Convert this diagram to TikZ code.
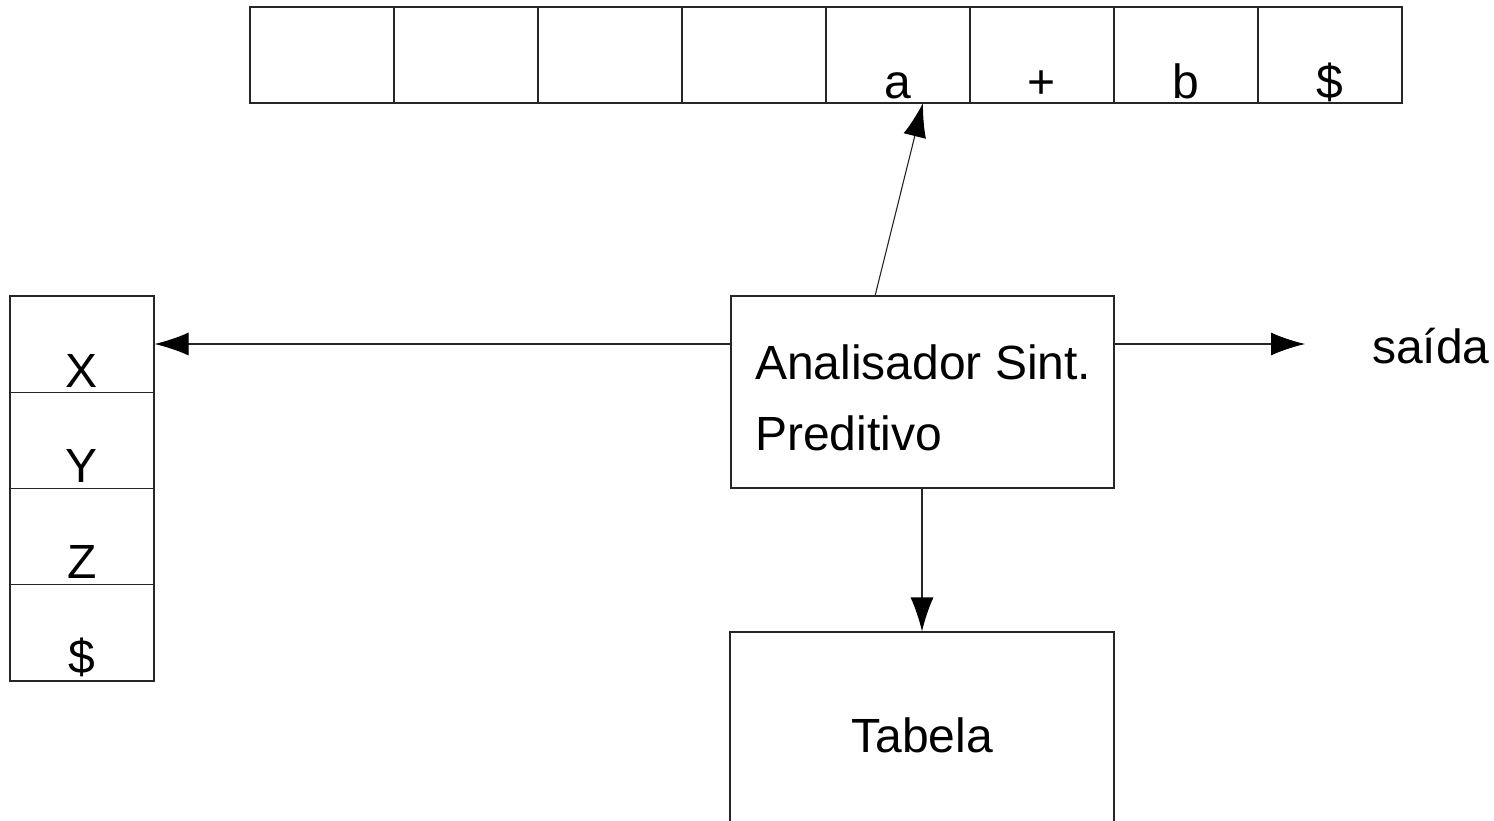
\documentclass[tikz,border=0pt]{standalone}
\usepackage{fontspec}
\setmainfont{Liberation Sans}
\usetikzlibrary{arrows.meta}
\begin{document}
\begin{tikzpicture}[x=1pt,y=-1pt,
  box/.style={draw=black!85,line width=1.1pt,inner sep=0pt},
  lbl/.style={font=\fontsize{48}{58}\selectfont,inner sep=0pt,anchor=base},
  arr/.style={draw=black!85,line width=1.1pt,-{Latex[length=34pt,width=23pt,black]}}]
\clip (0,0) rectangle (1494,821);
% input tape
\foreach \i in {0,...,7}{
  \node[box,minimum width=144pt,minimum height=96pt] (t\i) at ({250+144*\i+72},55) {};
}
\node[lbl] (ta) at (898,99) {a};
\node[lbl] (tp) at (1042,99) {+};
\node[lbl] (tb) at (1186,99) {b};
\node[lbl] (td) at (1330,99) {\$};
% stack
\foreach \j in {0,...,3}{
  \node[box,minimum width=144pt,minimum height=96.25pt] (s\j) at (82,{296+96.25*\j+48.125}) {};
}
\node[lbl] (sx) at (82,387) {X};
\node[lbl] (sy) at (82,482) {Y};
\node[lbl] (sz) at (82,578) {Z};
\node[lbl] (sd) at (82,673) {\$};
% parser
\node[box,minimum width=383pt,minimum height=192pt] (ana) at (922.5,392) {};
\node[lbl,anchor=base west] (l1) at (755,379) {Analisador Sint.};
\node[lbl,anchor=base west] (l2) at (755,450) {Preditivo};
% table
\node[box,minimum width=384pt,minimum height=260pt] (tab) at (922,762) {};
\node[lbl] (tl) at (922,752) {Tabela};
% output
\node[lbl,anchor=base west] (out) at (1372,363) {saída};
% connectors
\coordinate (upA) at (875,296);
\coordinate (upB) at (923,103);
\coordinate (lA) at (731,344);
\coordinate (rA) at (1114,344);
\coordinate (rB) at (1305,344);
\draw[arr] (upA) -- (upB);
\draw[arr] (lA) -- (s0.east |- lA);
\draw[arr] (rA) -- (rB);
\draw[arr] (ana.south -| tab.north) -- (tab.north);
\end{tikzpicture}
\end{document}
